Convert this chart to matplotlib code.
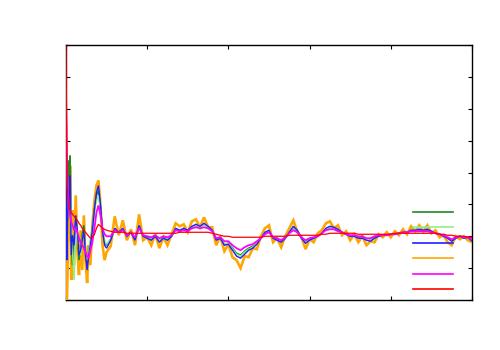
import matplotlib
matplotlib.use("Agg")
import matplotlib.pyplot as plt

# x positions (steps); fine spacing at the start, then every 10
x_early = [0, 2, 4, 6, 8, 10, 13, 16, 20, 24, 28, 32, 36, 40, 44, 48, 52, 56, 60,
           65, 70, 75, 80, 85, 90, 95, 100]
x_late = list(range(110, 1001, 10))
steps = x_early + x_late

darkgreen = [130, 60, 100, 140, 120, 145, 60, 35, 60, 80, 65, 40, 55, 65, 75, 50, 35, 50, 58,
             72, 92, 105, 110, 92, 68, 58, 55,
             61, 71, 68, 71, 64, 68, 61, 74, 64, 63,
             61, 64, 59, 63, 61, 64, 71, 70, 71, 70,
             73, 75, 73, 76, 73, 70, 61, 62, 56, 57,
             52, 47, 45, 49, 52, 54, 57, 62, 67, 69,
             62, 61, 59, 62, 68, 73, 69, 62, 58, 61,
             62, 64, 67, 71, 73, 72, 70, 68, 66, 64,
             64, 63, 63, 61, 60, 63, 64, 65, 65, 66,
             66, 67, 68, 68, 70, 70, 70, 70, 70, 69,
             67, 66, 64, 62, 60, 62, 64, 62, 63, 60]
lightgreen = [120, 70, 95, 110, 105, 115, 70, 50, 20, 75, 60, 50, 45, 62, 68, 48, 40, 48, 60,
              70, 88, 100, 105, 90, 70, 60, 56,
              61, 72, 68, 72, 64, 68, 61, 74, 64, 62,
              61, 64, 59, 62, 61, 64, 72, 70, 72, 70,
              73, 75, 73, 76, 73, 70, 61, 62, 56, 57,
              51, 46, 44, 48, 51, 53, 57, 62, 68, 69,
              62, 60, 59, 62, 68, 73, 70, 62, 58, 60,
              62, 64, 67, 71, 73, 72, 71, 68, 66, 64,
              64, 62, 62, 61, 60, 62, 64, 65, 65, 66,
              66, 67, 68, 68, 70, 70, 71, 70, 71, 69,
              67, 66, 64, 62, 60, 62, 64, 62, 63, 59]
blue = [150, 40, 80, 110, 95, 125, 45, 65, 55, 85, 70, 45, 50, 60, 70, 45, 30, 45, 55,
        70, 90, 108, 115, 95, 70, 55, 52,
        60, 72, 68, 72, 64, 68, 60, 75, 64, 62,
        60, 64, 58, 62, 60, 64, 72, 70, 72, 70,
        74, 76, 74, 77, 74, 70, 60, 62, 55, 56,
        50, 44, 42, 46, 50, 52, 56, 62, 68, 70,
        62, 60, 58, 62, 68, 74, 70, 62, 57, 60,
        62, 64, 67, 72, 74, 73, 71, 68, 66, 64,
        64, 62, 62, 60, 59, 62, 64, 65, 65, 66,
        66, 67, 68, 68, 70, 70, 71, 70, 71, 69,
        67, 66, 64, 62, 59, 62, 64, 62, 63, 59]
orange = [175, 0, 30, 120, 60, 135, 20, 90, 35, 105, 50, 25, 70, 30, 85, 40, 17, 55, 35,
          75, 100, 115, 120, 95, 55, 40, 48,
          54, 84, 65, 80, 60, 71, 55, 86, 60, 63,
          55, 66, 52, 63, 55, 66, 77, 74, 76, 68,
          79, 81, 73, 83, 73, 73, 55, 64, 49, 56,
          43, 40, 32, 44, 43, 52, 51, 64, 72, 75,
          58, 62, 53, 64, 72, 80, 68, 63, 51, 61,
          58, 67, 70, 77, 79, 72, 75, 65, 69, 60,
          66, 58, 64, 55, 59, 58, 66, 63, 68, 63,
          69, 65, 71, 66, 74, 69, 75, 69, 75, 67,
          70, 63, 65, 58, 55, 64, 61, 64, 60, 58]
magenta = [205, 150, 115, 100, 92, 85, 78, 75, 70, 72, 68, 62, 58, 55, 52, 48, 44, 42, 50,
           58, 72, 88, 95, 85, 72, 66, 64,
           64, 70, 68, 70, 65, 68, 63, 72, 65, 64,
           63, 65, 62, 64, 63, 65, 70, 69, 70, 69,
           72, 73, 72, 73, 72, 69, 62, 63, 59, 59,
           55, 52, 50, 53, 55, 56, 59, 62, 66, 68,
           63, 62, 60, 63, 67, 70, 68, 63, 60, 62,
           63, 64, 67, 70, 71, 71, 69, 68, 66, 65,
           65, 64, 64, 62, 62, 64, 65, 65, 65, 66,
           66, 67, 68, 68, 69, 69, 69, 69, 69, 68,
           67, 66, 65, 63, 61, 63, 64, 63, 63, 61]
red = [255, 150, 105, 96, 92, 90, 88, 86, 84, 82, 80, 77, 75, 72, 70, 68, 66, 64, 62,
       63, 66, 72, 76, 74, 72, 71, 70,
       69, 68, 68, 68, 67, 67, 67, 67, 67, 67,
       67, 67, 67, 67, 67, 67, 67, 68, 68, 68,
       68, 68, 68, 68, 68, 67, 66, 65, 64, 64,
       63, 63, 63, 63, 63, 63, 63, 63, 64, 64,
       64, 64, 64, 64, 65, 65, 65, 65, 65, 65,
       65, 65, 66, 66, 67, 67, 67, 67, 67, 67,
       67, 66, 66, 66, 66, 66, 66, 66, 66, 66,
       67, 67, 67, 67, 67, 67, 67, 67, 67, 67,
       67, 66, 66, 65, 65, 64, 64, 64, 63, 63]

# name, values, colour, line width, drawing order
series = [
    ("darkgreen", darkgreen, "#1f8a1f", 1.2, 4),
    ("lightgreen", lightgreen, "#90ee90", 1.1, 5),
    ("blue", blue, "#2020ff", 1.0, 6),
    ("orange", orange, "#ffa500", 1.9, 3),
    ("magenta", magenta, "#ff00ff", 1.3, 7),
    ("red", red, "#ff0000", 0.9, 8),
]

fig = plt.figure(figsize=(5, 3.5), dpi=100)
ax = fig.add_axes([0.132, 0.143, 0.812, 0.728])

handles = []
for name, vals, color, lw, z in series:
    line, = ax.plot(steps, vals, color=color, lw=lw, zorder=z,
                    solid_joinstyle="miter")
    handles.append(line)

ax.set_xlim(0, 1000)
ax.set_ylim(0, 256)
ax.set_xticks(range(0, 1001, 200))
ax.set_yticks(range(0, 257, 32))
ax.tick_params(direction="in", length=3, width=0.8, top=True, right=True,
               labelbottom=False, labelleft=False)
for sp in ax.spines.values():
    sp.set_linewidth(1.0)
    sp.set_zorder(2)

leg = ax.legend(handles, ["", "", "", "", "", ""], loc="lower right",
                bbox_to_anchor=(0.97, -0.015), frameon=False, handlelength=2.9,
                handletextpad=0, labelspacing=0.1, borderpad=0, fontsize=10)
for h in leg.get_lines():
    h.set_linewidth(1.2)

fig.savefig("out.png", dpi=100)
